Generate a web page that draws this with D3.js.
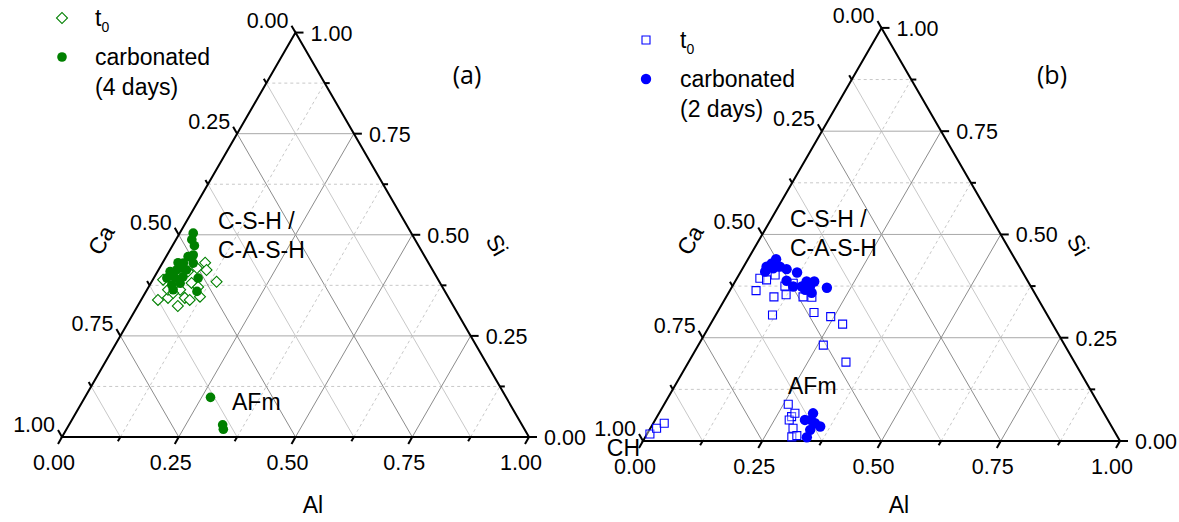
<!DOCTYPE html>
<html>
<head>
<meta charset="utf-8">
<script src="https://cdn.jsdelivr.net/npm/d3@7"></script>
<style>
body { margin: 0; background: #fff; }
text { font-family: "Liberation Sans", Arial, sans-serif; fill: #000; }
</style>
</head>
<body>
<svg id="chart" width="1179" height="522"></svg>
<script>
// compositions as [Al, Si]  (Ca = 1 - Al - Si)
const leftT0 = [
  [0.091,0.431],[0.139,0.384],[0.103,0.413],[0.065,0.409],[0.022,0.389],[0.036,0.339],
  [0.055,0.344],[0.086,0.324],[0.091,0.344],[0.104,0.339],[0.122,0.347],[0.071,0.364],
  [0.045,0.364],[0.087,0.381],[0.060,0.356],[0.106,0.371],[0.080,0.418]
];
const leftCarb = [
  [0.029,0.504],[0.034,0.488],[0.047,0.473],[0.056,0.450],[0.047,0.446],[0.033,0.431],
  [0.045,0.430],[0.066,0.430],[0.027,0.409],[0.039,0.413],[0.060,0.413],[0.046,0.418],
  [0.046,0.393],[0.028,0.393],[0.047,0.376],[0.063,0.380],[0.095,0.393],[0.109,0.360],
  [0.056,0.364],[0.061,0.396],
  // AFm
  [0.269,0.098],[0.329,0.030],[0.336,0.019]
];
const rightT0 = [
  [0.048,0.394],[0.064,0.390],[0.076,0.402],[0.055,0.364],[0.100,0.349],[0.110,0.375],
  [0.123,0.354],[0.124,0.382],[0.161,0.349],[0.180,0.348],[0.203,0.311],[0.243,0.301],
  [0.277,0.283],[0.119,0.305],[0.262,0.232],[0.330,0.191],
  // AFm
  [0.260,0.089],[0.282,0.059],[0.281,0.051],[0.285,0.067],[0.299,0.031],[0.307,0.010],[0.316,0.013],
  // CH
  [0.006,0.017],[0.013,0.031],[0.023,0.043]
];
const rightCarb = [
  [0.059,0.440],[0.055,0.430],[0.048,0.422],[0.051,0.410],[0.064,0.418],[0.076,0.422],
  [0.093,0.416],[0.119,0.408],[0.107,0.388],[0.128,0.374],[0.146,0.374],[0.150,0.386],
  [0.166,0.386],[0.163,0.374],[0.174,0.359],[0.200,0.371],[0.157,0.366],
  // AFm
  [0.323,0.067],[0.326,0.051],[0.314,0.051],[0.354,0.035],[0.337,0.027],[0.339,0.009],[0.339,0.043]
];
const tickValues = [0, 0.25, 0.5, 0.75, 1];
const tickLabels = ["0.00", "0.25", "0.50", "0.75", "1.00"];
const gridValues = d3.range(0.125, 1, 0.125);

const svg = d3.select("#chart");

function drawPanel(p) {
  const h = p.side * Math.sqrt(3) / 2;
  // bottom axis scale (Al + Si/2) and vertical scale (Si)
  const xScale = d3.scaleLinear().domain([0, 1]).range([p.x0, p.x0 + p.side]);
  const yScale = d3.scaleLinear().domain([0, 1]).range([p.y0, p.y0 - h]);
  const pos = (al, si) => [xScale(al + si / 2), yScale(si)];

  const g = svg.append("g");

  // grid lines
  const grid = g.append("g").attr("fill", "none");
  gridValues.forEach((v, i) => {
    const major = i % 2 === 1;
    // constant Si (horizontal)
    let a = pos(0, v), b = pos(1 - v, v);
    grid.append("line").attr("x1", a[0]).attr("y1", a[1]).attr("x2", b[0]).attr("y2", b[1])
      .attr("stroke", major ? "#a8a8a8" : "#c8c8c8")
      .attr("stroke-dasharray", major ? null : "3,3");
    // constant Al
    a = pos(v, 0); b = pos(v, 1 - v);
    grid.append("line").attr("x1", a[0]).attr("y1", a[1]).attr("x2", b[0]).attr("y2", b[1])
      .attr("stroke", major ? "#8c8c8c" : "#c8c8c8")
      .attr("stroke-dasharray", major ? null : "3,3");
    // constant Ca
    a = pos(0, 1 - v); b = pos(1 - v, 0);
    grid.append("line").attr("x1", a[0]).attr("y1", a[1]).attr("x2", b[0]).attr("y2", b[1])
      .attr("stroke", major ? "#8c8c8c" : "#c8c8c8");
  });

  // triangle frame
  const corners = [pos(0, 0), pos(1, 0), pos(0, 1)];
  g.append("path")
    .attr("d", "M" + corners.map(c => c.join(",")).join("L") + "Z")
    .attr("fill", "none").attr("stroke", "#000").attr("stroke-width", 2)
    .attr("stroke-linejoin", "miter");

  // ticks
  const ticks = g.append("g").attr("stroke", "#000").attr("stroke-width", 2);
  d3.range(0, 1.0001, 0.125).forEach((v, i) => {
    const len = i % 2 === 0 ? 8 : 5;
    let a = pos(v, 0); // bottom (Al), outward down-left
    ticks.append("line").attr("x1", a[0]).attr("y1", a[1])
      .attr("x2", a[0] - 0.5 * len).attr("y2", a[1] + 0.866 * len);
    a = pos(1 - v, v); // right (Si), outward to the right
    ticks.append("line").attr("x1", a[0]).attr("y1", a[1])
      .attr("x2", a[0] + len).attr("y2", a[1]);
    a = pos(0, 1 - v); // left (Ca), outward up-left
    ticks.append("line").attr("x1", a[0]).attr("y1", a[1])
      .attr("x2", a[0] - 0.5 * len).attr("y2", a[1] - 0.866 * len);
  });

  // tick labels
  const lab = g.append("g").attr("font-size", 21.5);
  tickValues.forEach((v, i) => {
    let a = pos(v, 0);
    lab.append("text").attr("x", a[0] - 8).attr("y", a[1] + 33)
      .attr("text-anchor", "middle").text(tickLabels[i]);
    a = pos(1 - v, v);
    lab.append("text").attr("x", a[0] + 15).attr("y", a[1] + 8)
      .attr("text-anchor", "start").text(tickLabels[i]);
    a = pos(0, 1 - v);
    lab.append("text").attr("x", a[0] - 7).attr("y", a[1] - 5)
      .attr("text-anchor", "end").text(tickLabels[i]);
  });

  // axis titles
  g.append("text").attr("x", p.alTitle[0]).attr("y", p.alTitle[1])
    .attr("text-anchor", "middle").attr("font-size", 23).text("Al");
  g.append("text").attr("transform", `translate(${p.caTitle[0]},${p.caTitle[1]}) rotate(-60)`)
    .attr("text-anchor", "middle").attr("dy", "0.35em").attr("font-size", 23).text("Ca");
  g.append("text").attr("transform", `translate(${p.siTitle[0]},${p.siTitle[1]}) rotate(60)`)
    .attr("text-anchor", "middle").attr("dy", "0.35em").attr("font-size", 23).text("Si");

  // phase labels
  p.notes.forEach(n => {
    g.append("text").attr("x", n.x).attr("y", n.y).attr("font-size", 23)
      .attr("text-anchor", n.anchor || "start").text(n.t);
  });
  g.append("text").attr("x", p.tag[0]).attr("y", p.tag[1])
    .attr("text-anchor", "middle").attr("font-size", 25)
    .style("font-family", "'Open Sans', sans-serif").text(p.tag[2]);

  // data: t0 (open) and carbonated (filled)
  const openSym = d3.symbol().type(d3.symbolSquare).size(p.openSize);
  g.append("g").selectAll("path")
    .data(p.t0)
    .enter()
    .append("path")
    .attr("d", openSym)
    .attr("transform", d => {
      const c = pos(d[0], d[1]);
      return `translate(${c[0]},${c[1]})` + (p.diamond ? " rotate(45)" : "");
    })
    .attr("fill", "#fff").attr("fill-opacity", p.diamond ? 1 : 0.4)
    .attr("stroke", p.color).attr("stroke-width", 1.1);

  g.append("g").selectAll("circle")
    .data(p.carb)
    .enter()
    .append("circle")
    .attr("cx", d => pos(d[0], d[1])[0])
    .attr("cy", d => pos(d[0], d[1])[1])
    .attr("r", p.r)
    .attr("fill", p.color);

  // legend
  const L = p.legend;
  g.append("path").attr("d", openSym)
    .attr("transform", `translate(${L.x},${L.y})` + (p.diamond ? " rotate(45)" : ""))
    .attr("fill", "#fff").attr("stroke", p.color).attr("stroke-width", 1.1);
  const t0 = g.append("text").attr("x", L.tx).attr("y", L.y + 8).attr("font-size", 23);
  t0.append("tspan").text("t");
  t0.append("tspan").attr("font-size", 14).attr("dy", 6).text("0");
  g.append("circle").attr("cx", L.x).attr("cy", L.y + 39).attr("r", p.r).attr("fill", p.color);
  g.append("text").attr("x", L.tx).attr("y", L.y + 47).attr("font-size", 23).text("carbonated");
  g.append("text").attr("x", L.tx).attr("y", L.y + 77).attr("font-size", 23).text(L.days);
}

drawPanel({
  x0: 62, y0: 437, side: 467, color: "#008000", diamond: true, openSize: 60, r: 4.8,
  t0: leftT0, carb: leftCarb,
  alTitle: [313, 513], caTitle: [101, 240], siTitle: [497, 245],
  tag: [467, 84, "(a)"],
  notes: [{x: 218, y: 229, t: "C-S-H /"}, {x: 218, y: 258, t: "C-A-S-H"}, {x: 232, y: 410, t: "AFm"}],
  legend: {x: 62, y: 18, tx: 95, days: "(4 days)"}
});

drawPanel({
  x0: 643, y0: 441, side: 477, color: "#0000ff", diamond: false, openSize: 64, r: 5.2,
  t0: rightT0, carb: rightCarb,
  alTitle: [899, 513], caTitle: [690, 240], siTitle: [1078, 245],
  tag: [1052, 84, "(b)"],
  notes: [{x: 790, y: 227, t: "C-S-H /"}, {x: 790, y: 256, t: "C-A-S-H"}, {x: 788, y: 394, t: "AFm"},
          {x: 640, y: 456, t: "CH", anchor: "end"}],
  legend: {x: 646, y: 40, tx: 680, days: "(2 days)"}
});
</script>
</body>
</html>
